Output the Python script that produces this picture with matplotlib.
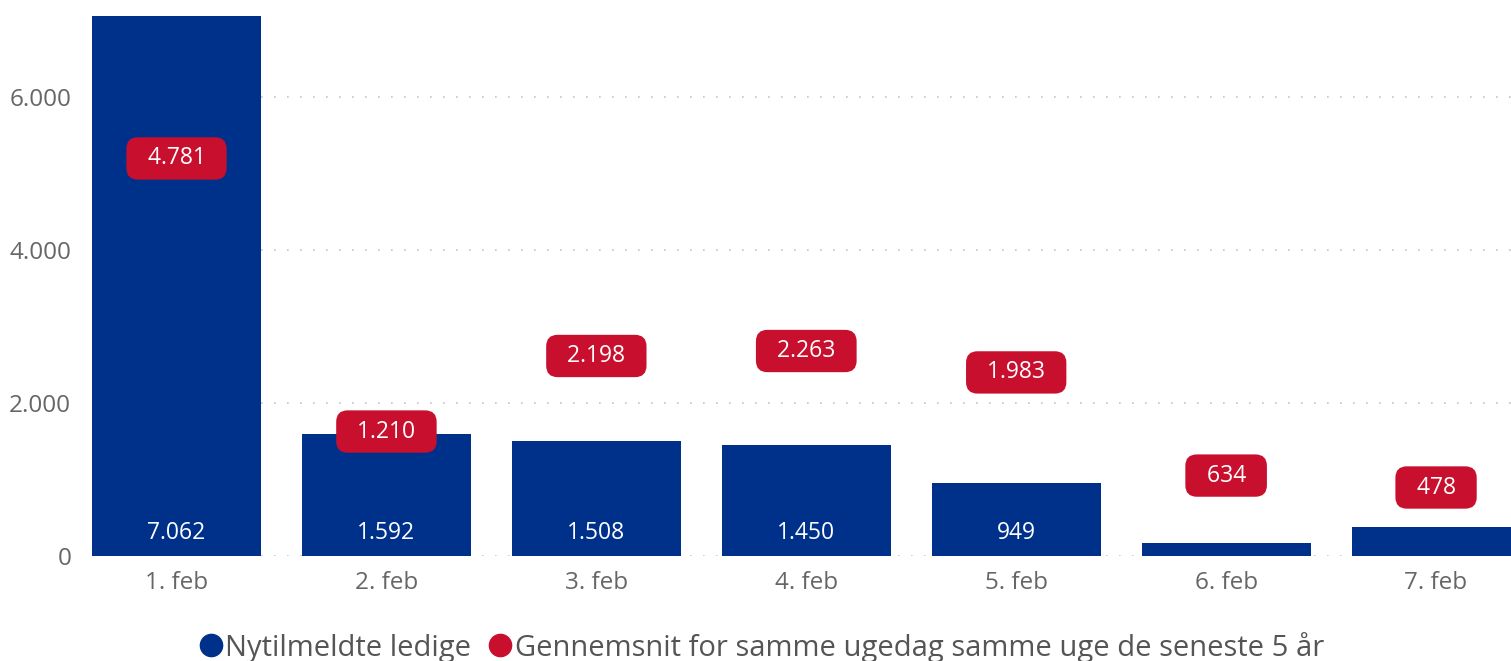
import matplotlib.pyplot as plt
from matplotlib.lines import Line2D

# data
days = ['1. feb', '2. feb', '3. feb', '4. feb', '5. feb', '6. feb', '7. feb']
nytilmeldte = [7062, 1592, 1508, 1450, 949, 170, 380]
gennemsnit = [4781, 1210, 2198, 2263, 1983, 634, 478]

blue = '#00318A'
red = '#C8102E'
grey = '#666666'

plt.rcParams['font.family'] = ['Open Sans', 'DejaVu Sans']


def fmt(v):
    # danish thousands separator
    return f'{v:,}'.replace(',', '.')


fig = plt.figure(figsize=(15.11, 6.61), dpi=100)
ax = fig.add_axes([92 / 1511, 1 - 556 / 661, 1419 / 1511, 540 / 661])

x = list(range(len(days)))
width = 0.805
ax.bar(x, nytilmeldte, width=width, color=blue, zorder=2)

ax.set_xlim(-width / 2, 6.357)
ax.set_ylim(0, 7062)

# dotted gridlines
ax.set_yticks([0, 2000, 4000, 6000])
ax.set_yticklabels([fmt(v) for v in [0, 2000, 4000, 6000]])
ax.grid(axis='y', color='#c4c4c4', linestyle=(0, (1, 6.8)), linewidth=1.2, zorder=0)
ax.set_xticks(x)
ax.set_xticklabels(days)
ax.tick_params(axis='both', length=0, labelsize=17.5, labelcolor=grey)
ax.tick_params(axis='y', pad=15)
ax.tick_params(axis='x', pad=11)
for s in ax.spines.values():
    s.set_visible(False)

# value labels inside bars
for i, v in enumerate(nytilmeldte):
    if v >= 600:
        ax.annotate(fmt(v), (i, 0), xytext=(0, 16.5), textcoords='offset points',
                    ha='center', va='center', color='white', fontsize=16.5, zorder=4)

# red labels for the 5-year average
for i, v in enumerate(gennemsnit):
    ax.annotate('  ' + fmt(v) + '  ', (i, v), xytext=(0, 23), textcoords='offset points',
                ha='center', va='center', color='white', fontsize=16.5, zorder=5,
                bbox=dict(boxstyle='round,pad=0.4,rounding_size=0.5', fc=red, ec='none'),
                annotation_clip=False)

handles = [Line2D([], [], marker='o', linestyle='none', color=blue, markersize=16),
           Line2D([], [], marker='o', linestyle='none', color=red, markersize=16)]
fig.legend(handles, ['Nytilmeldte ledige', 'Gennemsnit for samme ugedag samme uge de seneste 5 år'],
           loc='lower center', bbox_to_anchor=(0.503, -0.042), ncol=2, frameon=False,
           fontsize=21, labelcolor='#555555', handletextpad=0.0, columnspacing=0.5,
           handlelength=1.0)

fig.savefig('out.png', dpi=100)
